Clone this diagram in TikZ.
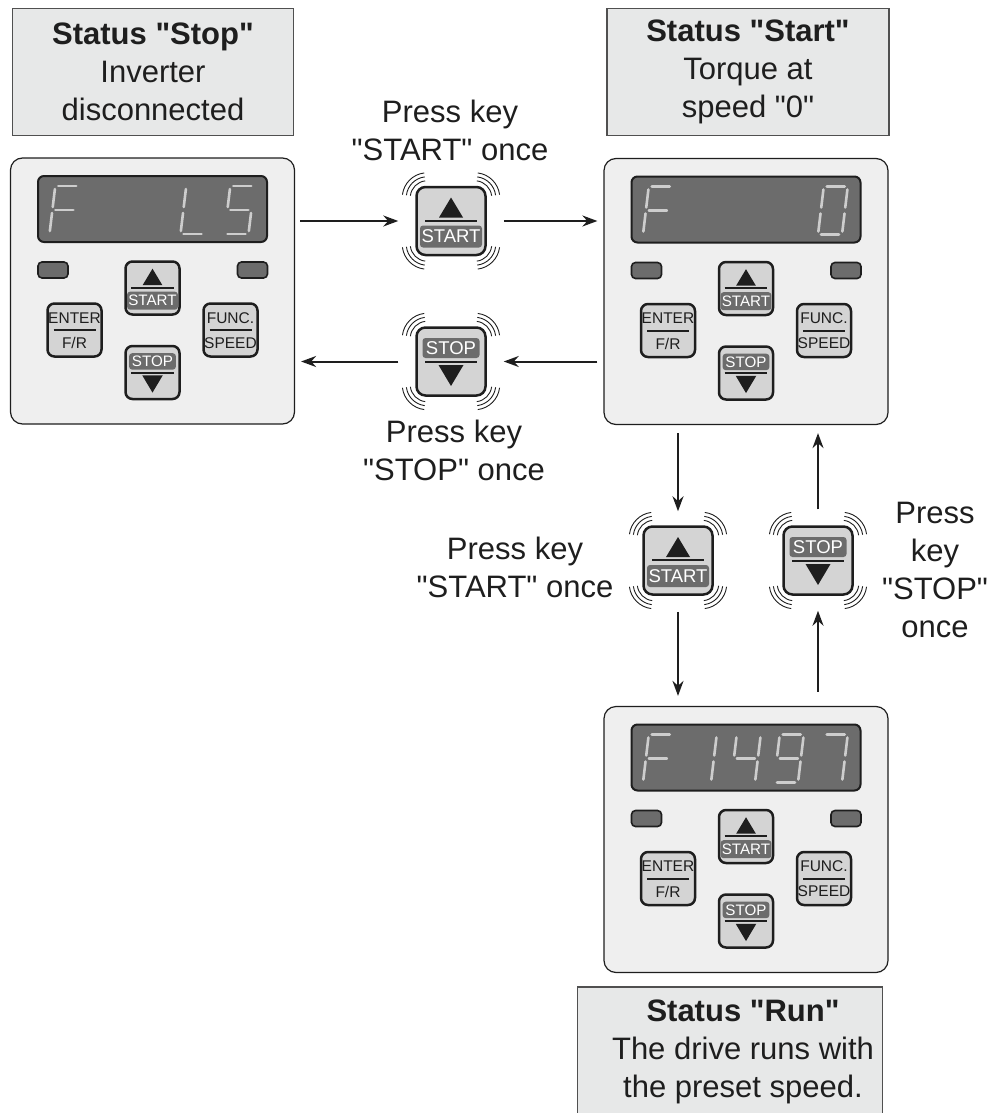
\documentclass[tikz,border=0pt]{standalone}
\usepackage{fontspec}
\setmainfont{Liberation Sans}[Ligatures=TeXOff]
\usetikzlibrary{arrows.meta,positioning,calc}
\definecolor{inkblack}{RGB}{30,30,30}
\definecolor{boxedge}{RGB}{80,80,80}
\definecolor{boxfill}{RGB}{231,232,232}
\definecolor{panelfill}{RGB}{239,239,239}
\definecolor{keyfill}{RGB}{212,212,212}
\definecolor{lcdfill}{RGB}{108,108,108}
\definecolor{segfill}{RGB}{205,205,205}

\tikzset{
  statusbox/.style={draw=boxedge, line width=1.5pt, fill=boxfill, align=center, font=\fontsize{31}{38}\selectfont, inner sep=0pt, text=inkblack},
  panel/.style={draw=inkblack, line width=1.2pt, fill=panelfill, rounded corners=12pt, minimum width=284pt, minimum height=266pt, inner sep=0pt},
  lcd/.style={draw=inkblack, line width=2pt, fill=lcdfill, rounded corners=6pt, minimum width=229pt, minimum height=66pt, inner sep=0pt},
  led/.style={draw=inkblack, line width=1.6pt, fill=lcdfill, rounded corners=4pt, minimum width=30pt, minimum height=16pt, inner sep=0pt},
  keycap/.style={draw=inkblack, line width=2.5pt, fill=keyfill, rounded corners=7pt, minimum width=54pt, minimum height=53pt, inner sep=0pt},
  bigkey/.style={keycap, minimum width=69pt, minimum height=68pt, rounded corners=9pt},
  keylabel/.style={fill=lcdfill, rounded corners=3pt, text=white, font=\fontsize{18.5}{18.5}\selectfont, inner sep=0pt, minimum width=62pt, minimum height=22pt},
  keytext/.style={font=\fontsize{15.5}{16}\selectfont, inner sep=0pt, text=inkblack},
  seg/.style={draw=segfill, line width=2.6pt, line cap=round},
  flow/.style={-{Stealth[length=15pt,width=11pt]}, line width=2pt, draw=inkblack},
  hint/.style={align=center, font=\fontsize{31}{38}\selectfont, text=inkblack},
  shakeline/.style={draw=inkblack, line width=0.9pt},
}

% seven segment pieces, digit is 24 wide and 48 high
\newcommand{\segA}{\draw[seg] (3,48) -- (21,48);}
\newcommand{\segB}{\draw[seg] (24,45) -- (24,27);}
\newcommand{\segC}{\draw[seg] (24,21) -- (24,3);}
\newcommand{\segD}{\draw[seg] (3,0) -- (21,0);}
\newcommand{\segE}{\draw[seg] (0,3) -- (0,21);}
\newcommand{\segF}{\draw[seg] (0,27) -- (0,45);}
\newcommand{\segG}{\draw[seg] (3,24) -- (21,24);}
\newcommand{\lcddigit}[3]{\begin{scope}[shift={(#1,#2)}, xslant=0.12]#3\end{scope}}

% faces of the keys
\newcommand{\startface}[2]{%
  \begin{scope}[shift={(#1.center)}, scale=#2, transform shape]
    \fill[inkblack] (-12,3.5) -- (12,3.5) -- (0,23.5) -- cycle;
    \draw[inkblack, line width=2pt] (-26,0.5) -- (26,0.5);
    \node[keylabel] (#1-label) at (0,-15.5) {START};
  \end{scope}}
\newcommand{\stopface}[2]{%
  \begin{scope}[shift={(#1.center)}, scale=#2, transform shape]
    \node[keylabel, minimum width=57pt, minimum height=20pt] (#1-label) at (0,13.5) {STOP};
    \draw[inkblack, line width=2pt] (-26,-0.5) -- (26,-0.5);
    \fill[inkblack] (-12.5,-3.5) -- (12.5,-3.5) -- (0,-24.5) -- cycle;
  \end{scope}}
\newcommand{\dualface}[3]{%
  \begin{scope}[shift={(#1.center)}]
    \node[keytext] (#1-up) at (0,12) {#2};
    \node[keytext] (#1-dn) at (0,-13) {#3};
    \draw[inkblack, line width=2pt] (-21,0) -- (21,0);
  \end{scope}}

% little arcs round a pressed key
\newcommand{\shake}[1]{%
  \foreach \corner/\dx/\dy/\midang in {north west/12/-12/135, north east/-12/-12/45, south west/12/12/225, south east/-12/12/315}
    \foreach \r in {17,21,25}
      \draw[shakeline] ([shift={(\dx,\dy)}]#1.\corner) ++(\midang-38:\r) arc[start angle=\midang-38, end angle=\midang+38, radius=\r];}

% the whole operating panel
\newcommand{\keypad}[3]{%
  \node[panel] (#1) at (#2) {};
  \begin{scope}[shift={(#1.center)}]
    \node[lcd] (#1-lcd) at (0,82) {};
    \node[led] (#1-ledl) at (-99.5,21) {};
    \node[led] (#1-ledr) at (100,21) {};
    \node[keycap] (#1-start) at (0,3) {};
    \node[keycap] (#1-stop) at (0,-81.5) {};
    \node[keycap] (#1-enter) at (-78,-39) {};
    \node[keycap] (#1-func) at (78,-39) {};
    #3
  \end{scope}
  \startface{#1-start}{0.82}
  \stopface{#1-stop}{0.82}
  \dualface{#1-enter}{ENTER}{F/R}
  \dualface{#1-func}{FUNC.}{SPEED}}

\begin{document}
\begin{tikzpicture}[x=1pt,y=1pt]
    \useasboundingbox (0,0) rectangle (1007,-1113);

    % states
    \node[statusbox, minimum width=281pt, minimum height=127pt] (stopstatus) at (153,-72) {\textbf{Status "Stop"}\\Inverter\\disconnected};
    \node[statusbox, minimum width=282pt, minimum height=127pt] (startstatus) at (748,-72) {\textbf{Status "Start"}\\Torque at\\speed "0"};
    \node[statusbox, minimum width=305pt, minimum height=135pt, anchor=north] (runstatus) at (730,-986) {};
    \node[statusbox, draw=none, fill=none] (runtext) at (743,-1052) {\textbf{Status "Run"}\\The drive runs with\\the preset speed.};

    % panels with their displays
    \keypad{stoppanel}{152.5,-291}{\lcddigit{-103}{57}{\segA\segE\segF\segG}\lcddigit{28}{57}{\segD\segE\segF}\lcddigit{72}{57}{\segA\segC\segD\segF\segG}}
    \keypad{startpanel}{746,-291.5}{\lcddigit{-103}{57}{\segA\segE\segF\segG}\lcddigit{72}{57}{\segA\segB\segC\segD\segE\segF}}
    \keypad{runpanel}{746,-839.5}{\lcddigit{-103}{57}{\segA\segE\segF\segG}\lcddigit{-59}{57}{\segB\segC}\lcddigit{-15}{57}{\segB\segC\segF\segG}\lcddigit{28}{57}{\segA\segB\segC\segD\segF\segG}\lcddigit{72}{57}{\segA\segB\segC}}

    % keys to press
    \node[bigkey] (pressstart) at (451,-221) {};
    \node[bigkey] (pressstop) at (451,-361.5) {};
    \node[bigkey] (runstart) at (678,-560.5) {};
    \node[bigkey] (runstop) at (818,-560.5) {};
    \startface{pressstart}{1}
    \stopface{pressstop}{1}
    \startface{runstart}{1}
    \stopface{runstop}{1}
    \shake{pressstart}
    \shake{pressstop}
    \shake{runstart}
    \shake{runstop}

    % transitions
    \draw[flow, shorten <=5pt, shorten >=17pt] (stoppanel.east |- pressstart.west) -- (pressstart.west);
    \draw[flow, shorten <=17pt, shorten >=6pt] (pressstart.east) -- (pressstart.east -| startpanel.west);
    \draw[flow, shorten <=6pt, shorten >=17pt] (startpanel.west |- pressstop.east) -- (pressstop.east);
    \draw[flow, shorten <=17pt, shorten >=6pt] (pressstop.west) -- (pressstop.west -| stoppanel.east);
    \draw[flow, shorten <=8pt, shorten >=14pt] (startpanel.south -| runstart.north) -- (runstart.north);
    \draw[flow, shorten <=16pt, shorten >=10pt] (runstart.south) -- (runstart.south |- runpanel.north);
    \draw[flow, shorten <=14pt, shorten >=15pt] (runpanel.north -| runstop.south) -- (runstop.south);
    \draw[flow, shorten <=16pt, shorten >=8pt] (runstop.north) -- (runstop.north |- startpanel.south);

    % what to do
    \node[hint] (hintstart) at (450,-130) {Press key\\"START" once};
    \node[hint] (hintstop) at (454,-450) {Press key\\"STOP" once};
    \node[hint] (hintrun) at (515,-567) {Press key\\"START" once};
    \node[hint] (hintback) at (935,-570) {Press\\key\\"STOP"\\once};
\end{tikzpicture}
\end{document}
